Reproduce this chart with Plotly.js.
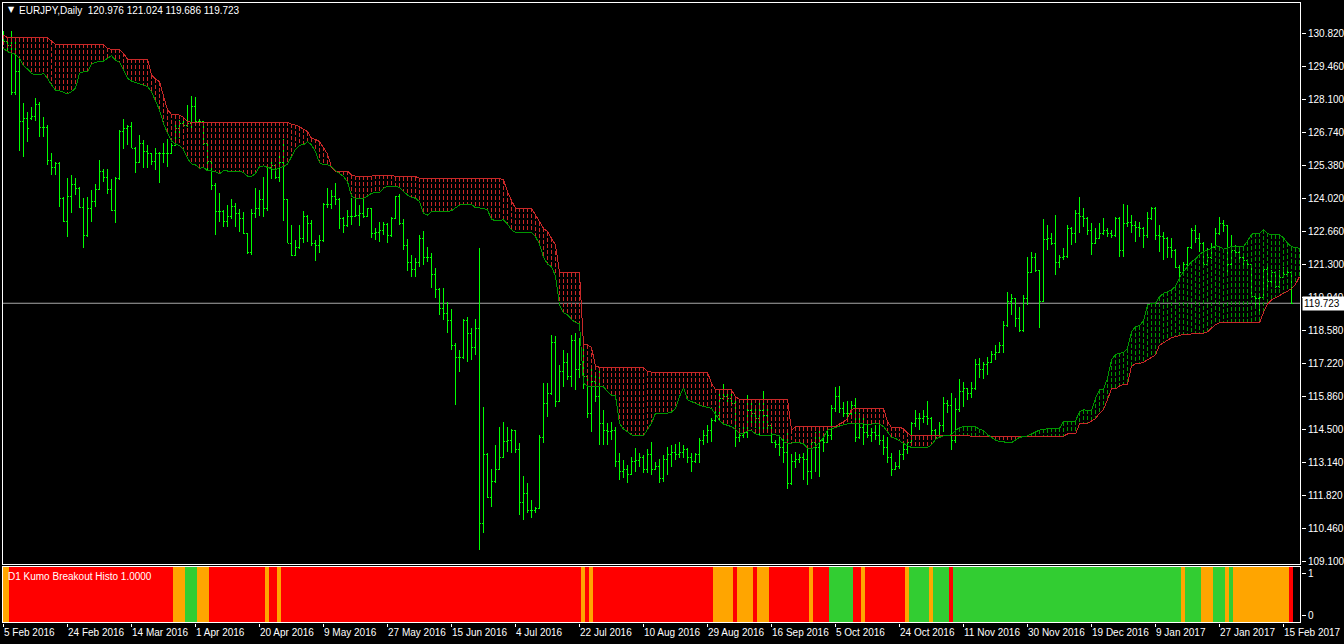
<!DOCTYPE html>
<html><head><meta charset="utf-8">
<script src="https://cdn.plot.ly/plotly-3.0.1.min.js"></script>
<style>html,body{margin:0;padding:0;background:#000;overflow:hidden}#chart{width:1344px;height:644px}
#chart .scatterlayer path, #chart .ohlclayer path, #chart .barlayer path, #chart .layer-above path {shape-rendering:crispEdges}
</style>
</head><body><div id="chart"></div>
<script>
// ---------- DATA ----------
const titleText = 'EURJPY,Daily\u00a0 120.976 121.024 119.686 119.723';
const histoTitle = 'D1 Kumo Breakout Histo 1.0000';
const lastPrice = 119.723;

const dateLabels = ['5 Feb 2016','24 Feb 2016','14 Mar 2016','1 Apr 2016','20 Apr 2016','9 May 2016','27 May 2016',
  '15 Jun 2016','4 Jul 2016','22 Jul 2016','10 Aug 2016','29 Aug 2016','16 Sep 2016','5 Oct 2016','24 Oct 2016',
  '11 Nov 2016','30 Nov 2016','19 Dec 2016','9 Jan 2017','27 Jan 2017','15 Feb 2017'];

const priceTickLabels = ['130.820','129.460','128.100','126.740','125.380','124.020','122.660','121.300','119.940',
  '118.580','117.220','115.860','114.500','113.140','111.820','110.460','109.100'];

const openP = [
130.70,130.50,130.30,128.40,129.24,127.20,127.30,127.30,127.40,127.90,
126.96,126.95,125.60,125.30,125.45,124.05,123.10,124.10,124.60,124.45,
123.66,122.50,123.60,123.90,124.40,125.15,124.90,124.40,123.55,124.85,
126.80,126.90,127.00,126.10,125.50,126.30,125.95,125.90,125.55,125.90,
125.90,125.90,125.90,126.20,126.90,127.10,127.05,127.10,127.80,127.20,
127.20,126.30,125.55,124.55,123.50,123.50,123.10,123.30,123.70,123.40,
123.20,122.60,121.80,123.40,123.60,124.00,123.60,125.30,125.40,124.90,
125.50,123.97,122.20,121.70,122.00,122.40,123.30,123.00,122.20,122.10,
122.30,123.80,123.80,124.10,124.00,123.20,122.90,123.30,123.30,123.35,
123.40,123.30,123.60,122.60,122.63,122.70,122.98,122.50,123.20,124.10,
123.00,122.10,121.40,121.10,121.40,122.40,121.60,121.60,120.90,120.30,
119.50,119.30,119.00,118.00,117.50,117.50,119.00,118.50,117.90,118.70,
110.65,113.50,111.75,112.40,112.90,113.40,114.06,114.10,114.50,113.70,
111.54,111.90,111.20,111.20,111.30,114.20,115.61,116.00,118.10,115.70,
116.90,117.30,116.70,118.20,117.00,117.20,116.70,115.20,116.50,115.90,
114.80,114.50,114.45,114.50,113.20,112.80,112.90,112.70,113.20,113.25,
113.40,112.90,113.50,112.90,113.00,112.50,113.30,113.50,113.60,113.50,
113.60,113.70,113.40,113.20,113.50,114.10,114.30,114.50,114.90,115.10,
115.80,115.90,115.80,115.60,114.20,114.30,114.40,115.30,115.20,115.00,
115.30,115.10,114.70,114.00,113.90,113.80,113.60,112.30,113.20,113.30,
113.40,113.30,112.80,114.00,113.80,114.10,114.00,114.30,115.40,115.90,
115.40,115.20,115.20,115.50,114.20,114.60,114.40,114.30,114.40,114.30,
114.10,113.80,113.40,112.90,113.00,113.50,113.70,114.00,114.80,115.00,
115.00,115.05,115.00,114.50,114.20,114.70,115.60,115.50,114.10,115.34,
116.10,116.20,116.00,116.20,117.20,117.00,117.20,117.30,117.60,117.70,
118.00,118.80,119.80,119.90,119.10,118.60,119.90,121.00,121.60,121.05,
119.80,122.35,122.40,122.20,121.40,121.60,121.65,122.80,122.60,123.40,
123.30,123.20,122.70,122.20,122.40,122.60,122.70,122.60,122.50,123.20,
121.90,123.00,123.05,122.90,122.85,122.80,122.50,123.20,123.60,122.50,
122.45,122.40,122.00,121.90,121.20,121.00,121.30,122.00,122.70,122.40,
122.20,121.30,121.60,122.00,122.60,123.00,122.90,121.30,121.90,121.80,
121.60,121.50,121.30,120.00,119.90,119.95,121.10,120.60,121.00,120.40,
120.80,120.90,120.976];

const highP = [
130.93,130.64,130.93,130.64,129.86,127.95,127.60,127.80,128.15,127.98,
127.39,127.05,125.89,125.54,125.54,124.10,124.86,125.00,124.86,124.50,
124.06,124.10,124.38,124.61,125.61,125.24,125.24,124.83,124.93,126.85,
127.28,127.05,127.19,126.16,126.64,126.43,126.23,125.92,126.09,125.96,
126.30,126.46,126.30,127.08,127.26,127.33,127.87,128.24,128.19,127.30,
127.20,126.37,125.60,124.65,124.24,123.56,123.76,123.99,123.83,123.58,
123.49,122.60,123.58,124.45,124.38,124.90,125.34,125.54,125.40,125.95,
126.46,124.00,122.94,122.32,122.94,123.53,123.35,123.15,122.32,122.53,
123.83,124.45,124.38,124.65,124.05,123.28,123.56,124.04,124.10,123.76,
123.99,123.62,123.65,122.80,123.08,123.08,123.04,123.28,124.13,124.20,
123.17,122.35,121.71,121.57,122.53,122.71,122.02,121.80,121.16,120.35,
120.34,119.79,119.47,118.10,117.80,119.06,119.17,118.69,119.06,121.98,
115.45,113.55,112.90,113.90,114.62,114.86,114.62,114.54,114.51,113.97,
112.62,112.32,111.64,111.36,114.31,116.43,116.43,118.42,118.38,117.19,
117.80,117.66,118.42,118.51,118.28,117.90,116.77,117.14,116.77,116.98,
115.33,114.79,114.85,114.65,113.55,113.28,113.07,113.42,113.76,113.55,
113.49,113.72,114.03,113.21,113.31,113.49,113.83,113.90,113.92,114.03,
113.90,113.76,113.55,113.58,114.17,114.52,114.72,114.99,115.40,116.02,
116.40,116.16,116.16,115.75,114.58,114.65,115.95,115.61,115.54,115.68,
116.12,115.40,114.75,114.10,114.24,114.17,114.51,113.53,113.62,113.53,
113.55,113.90,114.13,114.44,114.58,114.24,114.51,115.54,116.27,116.32,
115.68,115.72,115.72,115.82,115.23,115.03,114.72,114.58,114.72,114.72,
114.30,114.24,113.58,113.21,113.69,114.03,114.10,114.86,115.34,115.20,
115.34,115.72,115.03,114.54,114.86,115.88,115.75,116.02,115.81,116.60,
116.50,116.23,116.50,117.42,117.46,117.32,117.53,117.77,118.01,118.14,
119.01,120.20,120.10,119.93,119.58,120.06,121.64,121.84,121.80,121.10,
123.17,122.94,122.60,123.35,121.71,121.98,122.94,122.85,123.56,124.08,
123.62,123.25,123.04,122.80,123.04,123.21,122.80,122.74,123.28,123.25,
123.80,123.76,123.35,123.12,123.08,122.87,123.49,123.69,123.69,122.94,
122.67,122.45,122.42,121.95,121.30,121.43,122.05,122.80,122.94,122.60,
122.25,121.98,122.19,122.80,123.28,123.15,122.94,122.53,122.12,121.91,
121.71,121.55,121.35,120.05,120.06,121.23,121.23,121.09,121.05,121.09,
121.23,121.09,121.024];

const lowP = [
130.34,130.07,128.28,128.29,126.00,125.75,126.34,127.26,127.20,126.57,
126.57,125.41,125.00,125.00,123.70,123.08,122.46,123.42,124.17,123.63,
122.00,122.45,123.08,123.70,124.38,124.72,124.20,123.52,123.01,124.80,
126.07,126.23,126.10,125.07,125.48,125.27,125.27,125.41,125.20,124.65,
125.48,125.34,125.85,126.20,126.50,126.98,126.98,126.91,127.19,127.10,
126.23,125.20,124.38,122.53,123.08,122.85,122.85,123.20,122.87,122.67,
122.57,121.75,121.71,123.21,123.31,123.28,123.53,124.82,124.82,124.72,
123.12,122.19,121.67,121.65,121.95,122.19,122.26,122.08,121.47,121.78,
122.25,123.62,123.58,123.76,122.76,122.60,122.85,122.94,123.25,122.90,
123.21,123.25,122.39,122.33,122.26,122.53,122.22,122.45,123.17,122.94,
121.91,121.06,120.82,120.82,121.20,121.30,121.43,120.34,119.93,119.24,
119.04,118.51,117.80,115.54,116.91,117.45,117.32,117.39,117.60,109.58,
110.27,111.70,111.36,112.35,112.85,113.35,113.62,113.55,113.55,111.02,
110.81,111.09,110.88,111.09,111.25,113.97,115.06,115.95,115.45,115.65,
116.30,116.57,116.29,116.16,116.64,116.20,114.99,114.45,115.68,113.90,
113.90,113.90,114.10,113.01,112.46,112.53,112.32,112.65,112.80,113.01,
112.73,112.73,112.66,112.85,112.35,112.39,112.66,113.01,113.28,113.35,
113.35,113.14,112.80,113.14,113.14,113.90,113.97,114.03,114.86,114.92,
115.75,115.61,115.54,113.83,114.03,114.17,114.17,114.79,114.58,114.27,
114.51,114.45,113.97,113.76,113.44,113.14,112.07,112.25,112.94,113.17,
112.46,112.25,112.48,112.80,112.60,113.62,113.97,114.10,115.27,115.20,
115.03,114.93,115.15,114.03,114.15,113.90,114.17,114.03,114.10,113.90,
113.49,113.14,112.62,112.85,112.90,113.28,113.53,113.95,114.65,114.51,
114.79,114.72,114.17,114.10,114.17,114.44,115.23,113.69,113.96,115.27,
115.47,115.75,115.82,116.15,116.64,116.60,116.77,117.28,117.39,117.66,
117.66,118.75,119.24,118.76,118.56,118.55,119.65,120.95,121.02,118.69,
119.79,121.91,122.12,120.88,121.16,121.50,121.60,122.12,122.21,122.60,
122.84,122.53,121.71,122.15,122.35,122.55,122.46,122.39,122.45,121.64,
121.64,122.87,122.63,122.25,122.46,121.98,122.39,123.15,122.32,121.84,
121.50,121.57,121.57,121.16,120.82,120.89,121.23,121.95,122.19,121.84,
121.16,121.25,121.55,121.95,122.55,122.67,121.02,121.25,121.64,121.43,
121.30,121.23,119.93,119.65,119.31,119.86,120.34,120.41,120.34,120.35,
120.75,120.82,119.686];

const closeP = [
130.50,130.30,128.40,129.24,127.20,127.30,126.90,127.40,127.90,126.96,
126.95,125.60,125.30,125.45,124.05,123.10,124.10,124.60,124.45,123.66,
122.50,123.60,123.90,124.40,125.15,124.90,124.40,123.55,124.85,126.80,
126.90,127.00,126.10,125.50,126.30,125.95,125.90,125.55,125.90,125.90,
125.90,125.90,126.20,126.90,127.10,127.05,127.10,127.80,127.20,127.20,
126.30,125.55,124.55,123.50,123.50,123.10,123.30,123.70,123.40,123.20,
122.60,121.80,123.40,123.60,124.00,123.60,125.30,125.40,124.90,125.50,
123.97,122.20,121.70,122.00,122.40,123.30,123.00,122.20,122.10,122.30,
123.80,123.80,124.10,124.00,123.20,122.90,123.30,123.30,123.35,123.40,
123.30,123.60,122.60,122.63,122.70,122.98,122.50,123.20,124.10,123.00,
122.10,121.40,121.10,121.40,122.40,121.60,121.60,120.90,120.30,119.50,
119.30,119.00,118.00,117.50,117.50,119.00,118.50,117.90,118.70,110.65,
113.50,111.75,112.40,112.90,113.40,114.06,114.10,114.50,113.70,111.54,
111.90,111.20,111.20,111.30,114.20,115.61,116.00,118.10,115.70,116.90,
117.30,116.70,118.20,117.00,117.20,116.70,115.20,116.50,115.90,114.80,
114.50,114.45,114.50,113.20,112.80,112.90,112.70,113.20,113.25,113.40,
112.90,113.50,112.90,113.00,112.50,113.30,113.50,113.60,113.50,113.60,
113.70,113.40,113.20,113.50,114.10,114.30,114.50,114.90,115.10,115.80,
115.90,115.80,115.60,114.20,114.30,114.40,115.30,115.20,115.00,115.30,
115.10,114.70,114.00,113.90,113.80,113.60,112.30,113.20,113.30,113.40,
113.30,112.80,114.00,113.80,114.10,114.00,114.30,115.40,115.90,115.40,
115.20,115.20,115.50,114.20,114.60,114.40,114.30,114.40,114.30,114.10,
113.80,113.40,112.90,113.00,113.50,113.70,114.00,114.80,115.00,115.00,
115.05,115.00,114.50,114.20,114.70,115.60,115.50,114.10,115.34,116.10,
116.20,116.00,116.20,117.20,117.00,117.20,117.30,117.60,117.70,118.00,
118.80,119.80,119.90,119.10,118.60,119.90,121.00,121.60,121.05,119.80,
122.35,122.40,122.20,121.40,121.60,121.65,122.80,122.60,123.40,123.30,
123.20,122.70,122.20,122.40,122.60,122.70,122.60,122.50,123.20,121.90,
123.00,123.05,122.90,122.85,122.80,122.50,123.20,123.60,122.50,122.45,
122.40,122.00,121.90,121.20,121.00,121.30,122.00,122.70,122.40,122.20,
121.30,121.60,122.00,122.60,123.00,122.90,121.30,121.90,121.80,121.60,
121.50,121.30,120.00,119.90,119.95,121.10,120.60,121.00,120.40,120.80,
120.90,121.00,119.723];

// Ichimoku Senkou Span A (green) and Span B (red), drawn 2 bars past the last price bar
const senkouA = [
130.20,130.07,130.00,129.96,129.79,129.49,129.35,129.18,129.11,129.11,
129.18,128.97,128.70,128.49,128.46,128.38,128.33,128.42,128.56,129.18,
129.24,129.24,129.55,129.63,129.66,129.68,129.79,129.90,129.72,129.63,
129.31,128.97,128.86,128.80,128.75,128.70,128.63,128.42,128.08,127.67,
127.12,126.71,126.39,126.27,126.20,126.04,125.68,125.45,125.41,125.27,
125.31,125.17,125.16,125.13,125.04,125.17,125.16,125.16,125.16,125.16,
125.09,124.95,124.93,125.06,125.34,125.37,125.31,125.26,125.20,125.30,
125.34,125.45,125.75,126.05,126.22,126.24,126.37,126.23,125.95,125.50,
125.41,125.41,125.34,125.17,125.06,124.93,124.72,124.13,124.04,124.04,
124.04,124.13,124.24,124.28,124.28,124.45,124.54,124.54,124.54,124.48,
124.31,124.17,124.08,124.04,123.90,123.42,123.35,123.49,123.49,123.49,
123.49,123.49,123.53,123.63,123.76,123.79,123.79,123.79,123.65,123.63,
123.63,123.56,123.17,123.12,123.15,123.15,122.98,122.74,122.64,122.64,
122.64,122.64,122.64,122.46,122.16,121.61,121.34,121.23,120.84,119.65,
119.34,119.25,119.06,118.93,118.87,116.43,116.32,116.32,116.32,116.32,
116.29,116.09,115.95,115.91,114.79,114.54,114.45,114.31,114.28,114.28,
114.28,114.54,114.79,115.20,115.20,115.20,115.20,115.25,115.40,115.88,
116.25,115.75,115.68,115.58,115.54,115.47,115.45,115.39,115.17,114.90,
114.76,114.72,114.65,114.54,114.38,114.35,114.47,114.49,114.35,114.30,
114.31,114.31,114.31,114.31,114.27,114.03,113.97,113.97,113.97,113.99,
113.94,113.76,113.73,113.83,113.99,114.21,114.51,114.57,114.62,114.68,
114.73,114.76,114.76,114.76,114.76,114.76,114.72,114.77,114.79,114.75,
114.65,114.44,114.21,114.17,114.07,113.97,113.86,113.80,113.79,113.79,
113.79,113.79,113.90,114.13,114.21,114.27,114.29,114.32,114.49,114.61,
114.65,114.65,114.65,114.65,114.54,114.49,114.32,114.21,114.10,114.03,
114.03,113.99,113.99,114.10,114.21,114.24,114.27,114.35,114.44,114.51,
114.54,114.57,114.58,114.58,114.58,114.86,114.88,114.88,114.88,115.27,
115.34,115.34,115.31,115.81,116.16,116.18,116.64,117.39,117.62,117.66,
117.71,117.86,118.56,118.76,118.80,119.00,119.65,119.72,119.72,119.99,
120.13,120.20,120.28,120.41,120.78,121.02,121.23,121.43,121.54,121.73,
121.84,121.90,121.98,122.09,122.05,121.95,122.00,122.05,122.05,122.05,
122.05,122.28,122.56,122.60,122.60,122.74,122.60,122.53,122.53,122.53,
122.42,122.19,122.05,122.00,121.98];

const senkouB = [
130.75,130.64,130.64,130.64,130.64,130.64,130.64,130.64,130.64,130.64,
130.64,130.64,130.50,130.37,130.37,130.37,130.37,130.37,130.37,130.37,
130.37,130.37,130.37,130.37,130.37,130.37,130.20,130.16,130.16,130.16,
130.00,129.75,129.75,129.75,129.75,129.75,129.75,129.10,128.94,128.83,
128.22,127.67,127.49,127.46,127.46,127.36,127.19,127.16,127.16,127.16,
127.16,127.16,127.16,127.16,127.16,127.16,127.16,127.16,127.16,127.16,
127.16,127.16,127.16,127.16,127.16,127.16,127.16,127.16,127.16,127.16,
127.16,127.16,127.08,127.05,126.98,126.87,126.78,126.50,126.46,126.37,
126.13,125.86,125.31,125.16,125.16,125.16,125.16,124.99,124.95,124.95,
124.95,124.95,124.95,124.99,124.99,124.99,124.99,124.99,124.93,124.93,
124.93,124.93,124.93,124.93,124.86,124.86,124.86,124.86,124.86,124.86,
124.86,124.86,124.86,124.86,124.86,124.86,124.86,124.86,124.86,124.86,
124.86,124.86,124.86,124.86,124.86,124.79,124.31,123.94,123.63,123.63,
123.63,123.63,123.63,123.35,123.08,122.80,122.67,122.39,122.12,120.98,
120.98,120.98,120.98,120.98,120.98,118.01,118.01,117.91,117.14,117.09,
117.09,117.09,117.09,117.09,117.09,117.09,117.09,117.09,117.09,117.09,
117.09,116.91,116.88,116.88,116.88,116.88,116.88,116.88,116.88,116.88,
116.88,116.88,116.88,116.88,116.88,116.88,116.88,116.43,116.18,116.16,
116.16,116.16,116.16,115.88,115.77,115.77,115.77,115.77,115.77,115.77,
115.77,115.77,115.77,115.77,115.77,115.77,115.77,114.51,114.65,114.65,
114.65,114.65,114.65,114.65,114.65,114.65,114.65,114.65,114.65,114.76,
114.84,114.99,115.36,115.40,115.40,115.40,115.40,115.40,115.40,115.40,
115.40,114.86,114.62,114.62,114.62,114.57,114.38,114.27,114.27,114.27,
114.27,114.27,114.27,114.27,114.27,114.27,114.27,114.27,114.26,114.26,
114.26,114.26,114.26,114.26,114.26,114.26,114.26,114.26,114.26,114.26,
114.26,114.26,114.26,114.26,114.26,114.26,114.26,114.26,114.26,114.26,
114.26,114.26,114.26,114.26,114.26,114.26,114.35,114.35,114.35,114.76,
114.79,114.79,114.88,114.98,115.20,115.36,115.77,116.20,116.20,116.32,
116.39,116.39,117.14,117.23,117.25,117.29,117.40,117.50,117.60,118.00,
118.10,118.20,118.30,118.35,118.40,118.45,118.45,118.45,118.47,118.49,
118.49,118.55,118.70,118.85,118.92,118.92,118.92,118.92,118.92,118.92,
118.92,118.92,118.92,118.92,118.92,119.35,119.70,119.86,119.95,120.02,
120.12,120.22,120.33,120.50,120.82];

// Kumo breakout histogram state per bar (run lengths): R below cloud, O inside, G above
const histoRuns = [['O',2],['R',41],['O',3],['G',3],['O',3],['R',14],['O',1],['R',2],['O',1],['R',75],
  ['O',1],['R',1],['O',1],['R',30],['O',5],['R',1],['O',4],['R',1],['O',3],['R',10],['O',1],['R',4],
  ['G',6],['R',2],['O',1],['R',10],['O',1],['G',5],['O',1],['G',4],['R',1],['G',57],['O',1],['G',4],
  ['O',3],['G',3],['O',1],['G',1],['O',14],['R',1]];

// ---------- STYLE ----------
const FONT = 'Liberation Sans, Arial, sans-serif';
const FS = 10;
const BAR_COLOR = '#00ff00';
const SPAN_A_COLOR = 'rgb(0,150,0)';
const SPAN_B_COLOR = 'rgb(200,40,40)';
const HISTO_COLORS = {R:'#ff0000', O:'#ffa500', G:'#32cd32'};

// ---------- BUILD ----------
const barX = openP.map((_, i) => i);
const cloudX = senkouA.map((_, i) => i);

const gx = [], gy = [], rx = [], ry = [];
senkouA.forEach((a, i) => {
  const b = senkouB[i];
  if (a >= b) { gx.push(i, i, null); gy.push(a, b, null); }
  else { rx.push(i, i, null); ry.push(b, a, null); }
});

const histoState = [];
histoRuns.forEach(([c, n]) => { for (let k = 0; k < n; k++) histoState.push(c); });

const Y2_LO = -0.163, Y2_HI = 1.163;
const X_RANGE = [-0.375, 324.375];
const Y_RANGE = [108.963, 132.108];

// tick positions evenly spaced between the top and bottom labels
const topV = 130.82, botV = 109.10;
const priceTickVals = priceTickLabels.map((_, k) => topV - k * (topV - botV) / (priceTickLabels.length - 1));

const traces = [
  {type:'scatter', mode:'lines', x:gx, y:gy, connectgaps:false, hoverinfo:'skip',
   line:{color:SPAN_A_COLOR, width:1, dash:'4px,2px'}, xaxis:'x', yaxis:'y'},
  {type:'scatter', mode:'lines', x:rx, y:ry, connectgaps:false, hoverinfo:'skip',
   line:{color:SPAN_B_COLOR, width:1, dash:'4px,2px'}, xaxis:'x', yaxis:'y'},
  {type:'scatter', mode:'lines', x:cloudX, y:senkouB, hoverinfo:'skip',
   line:{color:SPAN_B_COLOR, width:1}, xaxis:'x', yaxis:'y'},
  {type:'scatter', mode:'lines', x:cloudX, y:senkouA, hoverinfo:'skip',
   line:{color:SPAN_A_COLOR, width:1}, xaxis:'x', yaxis:'y'},
  {type:'ohlc', x:barX, open:openP, high:highP, low:lowP, close:closeP, tickwidth:0.4,
   increasing:{line:{color:BAR_COLOR, width:1}}, decreasing:{line:{color:BAR_COLOR, width:1}},
   hoverinfo:'skip', xaxis:'x', yaxis:'y'},
  {type:'bar', x:histoState.map((_, i) => i), y:histoState.map(() => Y2_HI - Y2_LO), base:Y2_LO,
   width:1, offset:-0.625, marker:{color:histoState.map(c => HISTO_COLORS[c]), line:{width:0}},
   hoverinfo:'skip', xaxis:'x2', yaxis:'y2'}
];

const PW = 1299, PH = 621; // plot area size in px
const tickFont = {family:FONT, size:FS, color:'#ffffff'};

const layout = {
  width:1344, height:644,
  margin:{l:2, r:43, t:2, b:21, pad:0},
  paper_bgcolor:'#000000', plot_bgcolor:'#000000',
  showlegend:false, hovermode:false, bargap:0,
  font:{family:FONT, size:FS, color:'#ffffff'},
  xaxis:{domain:[0,1], anchor:'y', range:X_RANGE, showticklabels:false, ticks:'',
         showgrid:false, zeroline:false, showline:false, rangeslider:{visible:false}, fixedrange:true},
  yaxis:{domain:[58/PH, 1], anchor:'x', side:'right', range:Y_RANGE,
         tickmode:'array', tickvals:priceTickVals, ticktext:priceTickLabels,
         ticks:'outside', ticklen:4, tickwidth:1, tickcolor:'#ffffff', tickfont:tickFont,
         showgrid:false, zeroline:false, showline:false, fixedrange:true},
  xaxis2:{domain:[0,1], anchor:'y2', range:X_RANGE,
          tickmode:'array', tickvals:dateLabels.map((_, k) => k * 16), ticktext:dateLabels,
          ticks:'outside', ticklen:3, tickwidth:1, tickcolor:'#ffffff', tickfont:tickFont,
          ticklabelposition:'outside right', tickangle:0, automargin:false,
          showgrid:false, zeroline:false, showline:false, rangeslider:{visible:false}, fixedrange:true},
  yaxis2:{domain:[0, 57/PH], anchor:'x2', side:'right', range:[Y2_LO, Y2_HI],
          tickmode:'array', tickvals:[0, 1], ticktext:['0', '1'],
          ticks:'outside', ticklen:4, tickwidth:1, tickcolor:'#ffffff', tickfont:tickFont,
          showgrid:false, zeroline:false, showline:false, fixedrange:true},
  shapes:[
    {type:'line', xref:'paper', yref:'y', x0:0, x1:1, y0:lastPrice, y1:lastPrice,
     line:{color:'#a8a8a8', width:1}, layer:'below'},
    {type:'rect', xref:'paper', yref:'paper', x0:0.5/PW, x1:1298.5/PW, y0:58.5/PH, y1:620.5/PH,
     line:{color:'#ffffff', width:1}, fillcolor:'rgba(0,0,0,0)', layer:'above'},
    {type:'rect', xref:'paper', yref:'paper', x0:0.5/PW, x1:1298.5/PW, y0:0.5/PH, y1:56.5/PH,
     line:{color:'#ffffff', width:1}, fillcolor:'rgba(0,0,0,0)', layer:'above'}
  ],
  annotations:[
    {xref:'paper', yref:'paper', x:9/PW, y:(623-10)/PH, xanchor:'center', yanchor:'middle',
     text:'\u25BC', showarrow:false, font:{family:'DejaVu Sans', size:8, color:'#ffffff'}},
    {xref:'paper', yref:'paper', x:15/PW, y:(623-10.5)/PH, xanchor:'left', yanchor:'middle',
     text:titleText, showarrow:false, font:{family:FONT, size:FS, color:'#ffffff'}},
    {xref:'paper', yref:'paper', x:4/PW, y:(623-576)/PH, xanchor:'left', yanchor:'middle',
     text:histoTitle, showarrow:false, font:{family:FONT, size:FS, color:'#ffffff'}},
    {xref:'paper', yref:'y', x:1, xshift:1, y:lastPrice, xanchor:'left', yanchor:'middle',
     text:lastPrice.toFixed(3), showarrow:false, bgcolor:'#ffffff', borderpad:1, width:39, height:11,
     align:'left', font:{family:FONT, size:FS, color:'#000000'}}
  ]
};

Plotly.newPlot('chart', traces, layout, {staticPlot:true, displayModeBar:false});
</script>
</body></html>
